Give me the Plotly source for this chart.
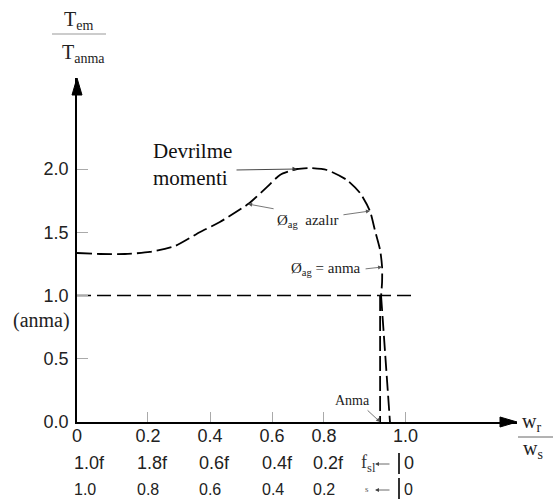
import plotly.graph_objects as go

# ---------------- data ----------------
# slip / speed axis (positions of the schematic tick labels, in w_r/w_s units)
tick_pos = [0, 0.216, 0.405, 0.594, 0.752, 1.0]
tick_speed = ["0", "0.2", "0.4", "0.6", "0.8", "1.0"]
tick_freq = ["1.0f", "1.8f", "0.6f", "0.4f", "0.2f"]
tick_slip = ["1.0", "0.8", "0.6", "0.4", "0.2"]

y_ticks = [0, 0.5, 1.0, 1.5, 2.0]
y_labels = ["0.0", "0.5", "1.0", "1.5", "2.0"]

# torque-speed curve (T_em / T_anma vs w_r / w_s)
curve_x = [0.0, 0.07, 0.146, 0.222, 0.298, 0.375, 0.435, 0.521, 0.579, 0.618,
           0.670, 0.710, 0.761, 0.822, 0.862, 0.892, 0.907, 0.923, 0.929, 0.929,
           0.926, 0.953]
curve_y = [1.336, 1.328, 1.328, 1.344, 1.391, 1.502, 1.581, 1.723, 1.858, 1.953,
           2.0, 2.008, 1.992, 1.913, 1.810, 1.668, 1.518, 1.360, 1.225, 1.107,
           0.996, 0.0]
# rated-flux branch
rated_x = [0.923, 0.923]
rated_y = [0.996, 0.0]
# rated torque line
rated_line_x = [0.0, 1.03]
rated_line_y = [1.0, 1.0]

# ---------------- layout geometry ----------------
W, H = 553, 504
ML, MR, MT, MB = 77, 36, 78, 82
PW, PH = W - ML - MR, H - MT - MB


def px(x):
    return (x - ML) / PW


def py(y):
    return (H - MB - y) / PH


SANS = "Liberation Sans"
SERIF = "Liberation Serif"
DASH = "15px,5px"

fig = go.Figure()
fig.add_trace(go.Scatter(x=curve_x[:-1], y=curve_y[:-1], mode="lines",
                         line=dict(color="black", width=1.8, dash=DASH,
                                   shape="spline", smoothing=0.6),
                         hoverinfo="skip"))
fig.add_trace(go.Scatter(x=curve_x[-2:], y=curve_y[-2:], mode="lines",
                         line=dict(color="black", width=1.8, dash=DASH),
                         hoverinfo="skip"))
fig.add_trace(go.Scatter(x=rated_x, y=rated_y, mode="lines",
                         line=dict(color="black", width=1.8, dash=DASH),
                         hoverinfo="skip"))
fig.add_trace(go.Scatter(x=rated_line_x, y=rated_line_y, mode="lines",
                         line=dict(color="black", width=1.5, dash="14px,6px"),
                         hoverinfo="skip"))

ann = []
shapes = []


def text(t, x, y, size, family=SERIF, color="#222", xanchor="center", **kw):
    ann.append(dict(text=t, xref="paper", yref="paper", x=px(x), y=py(y),
                    xanchor=xanchor, yanchor="middle", showarrow=False,
                    font=dict(family=family, size=size, color=color), **kw))


def arrow(x, y, ax, ay, color="#555", width=0.8, **kw):
    ann.append(dict(text="", x=x, y=y, ax=ax, ay=ay, showarrow=True,
                    arrowhead=2, arrowsize=1, arrowwidth=width, arrowcolor=color,
                    xanchor="center", yanchor="middle", **kw))


# axis arrowheads
shapes.append(dict(type="path", xref="paper", yref="paper",
                   path=f"M {px(517)},{py(422)} L {px(500)},{py(417)} L {px(500)},{py(427)} Z",
                   fillcolor="black", line=dict(color="black", width=1)))
shapes.append(dict(type="path", xref="paper", yref="paper",
                   path=f"M {px(77)},{py(78)} L {px(72)},{py(95)} L {px(82)},{py(95)} Z",
                   fillcolor="black", line=dict(color="black", width=1)))

# y-axis title fraction
text("T<sub>em</sub>", 78, 21, 20)
shapes.append(dict(type="line", xref="paper", yref="paper", x0=px(52), x1=px(106),
                   y0=py(34), y1=py(34), line=dict(color="#999", width=1)))
text("T<sub>anma</sub>", 83, 53, 20)

# x-axis title fraction
text("w<sub>r</sub>", 531, 422, 20)
shapes.append(dict(type="line", xref="paper", yref="paper", x0=px(518), x1=px(553),
                   y0=py(437), y1=py(437), line=dict(color="#666", width=1)))
text("w<sub>s</sub>", 533, 449, 20)

# (anma) under the 1.0 y tick
text("(anma)", 41, 320, 20)

# extra tick rows (left aligned with the speed labels)
cw = {".": 0.278}


def half_width(s, size):
    return 0.5 * sum(cw.get(c, 0.556) for c in s) * size


for i, lab in enumerate(tick_freq):
    ann.append(dict(text=lab, x=tick_pos[i], xref="x", yref="paper", y=py(463),
                    xanchor="left", yanchor="middle",
                    xshift=-half_width(tick_speed[i], 18), showarrow=False,
                    font=dict(family=SANS, size=18, color="#222")))
for i, lab in enumerate(tick_slip):
    ann.append(dict(text=lab, x=tick_pos[i], xref="x", yref="paper", y=py(489),
                    xanchor="left", yanchor="middle",
                    xshift=-half_width(tick_speed[i], 18), showarrow=False,
                    font=dict(family=SANS, size=16, color="#222")))

# f_sl and s markers with "|0"
text("f<sub>sl</sub>", 368, 463, 18, color="#333")
text("s", 367, 489, 9, color="#555")
for yy in (464, 490):
    arrow(px(375), py(yy), 16, 0, color="#444", xref="paper", yref="paper")
for (y0, y1, yc, fs) in ((453, 474, 463, 18), (478, 499, 489, 16)):
    shapes.append(dict(type="line", xref="paper", yref="paper", x0=px(399), x1=px(399),
                       y0=py(y0), y1=py(y1), line=dict(color="#333", width=2)))
    text("0", 402, yc, fs, family=SANS, xanchor="left")

# curve annotations
text("Devrilme<br>momenti", 151, 164, 21, color="#111", xanchor="left", align="left")
arrow(curve_x[10], curve_y[10], -62, 1, color="#333", width=0.9)

text("Ø<sub>ag</sub>\u00a0\u00a0azalır", 308, 221, 15)
arrow(curve_x[7], curve_y[7], 27, 5)
arrow(curve_x[15], curve_y[15], -28, 4)

text("Ø<sub>ag</sub> = anma", 326, 269, 15)
arrow(curve_x[18], curve_y[18], -18, 2)

text("Anma", 352, 400, 14)
arrow(rated_x[1], rated_y[1], -14, -13)

fig.update_layout(
    width=W, height=H,
    margin=dict(l=ML, r=MR, t=MT, b=MB),
    paper_bgcolor="white", plot_bgcolor="white",
    showlegend=False,
    annotations=ann, shapes=shapes,
    xaxis=dict(range=[0, PW / 328.4], showgrid=False, zeroline=False,
               showline=True, linecolor="black", linewidth=1.5,
               tickvals=tick_pos, ticktext=tick_speed,
               ticks="inside", ticklen=10, tickcolor="#aaa", tickwidth=1,
               ticklabelstandoff=-3,
               tickfont=dict(family=SANS, size=18, color="#222")),
    yaxis=dict(range=[0, PH / 126.5], showgrid=False, zeroline=False,
               showline=True, linecolor="black", linewidth=1.5,
               tickvals=y_ticks, ticktext=y_labels,
               ticks="inside", ticklen=11, tickcolor="#aaa", tickwidth=1,
               ticklabelstandoff=3,
               tickfont=dict(family=SANS, size=18, color="#222")),
)

fig.write_html("out.html", config={"displayModeBar": False},
               post_script="document.body.style.margin='0px';")
